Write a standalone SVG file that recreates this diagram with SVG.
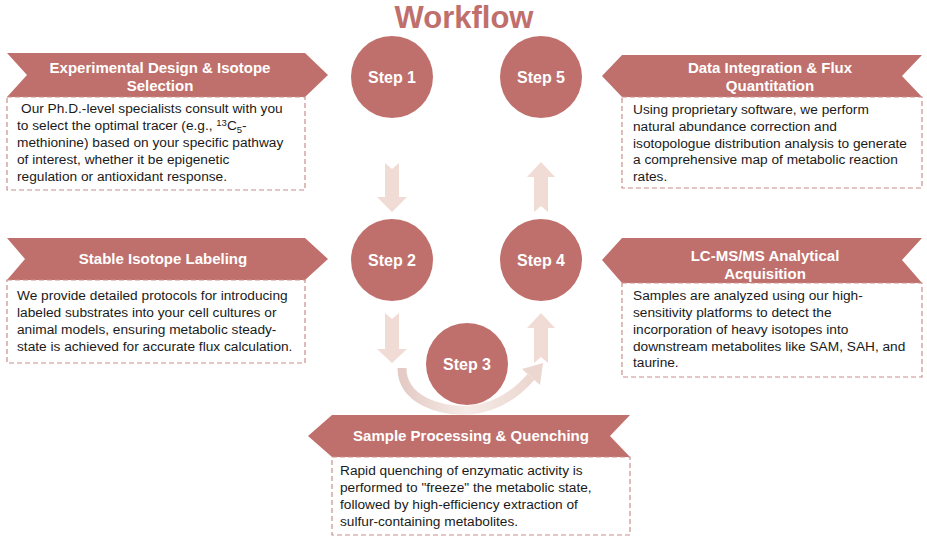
<svg xmlns="http://www.w3.org/2000/svg" width="927" height="542" viewBox="0 0 927 542">
<defs>
<style>
.ttl{font-family:"Liberation Sans",Arial,sans-serif;font-weight:bold;font-size:31px;fill:#bf6f6c;text-anchor:middle}
.rib{fill:#c0706c}
.box{fill:#ffffff;stroke:#c98f8a;stroke-width:1.2;stroke-dasharray:5 3}
.hd{font-family:"Liberation Sans",Arial,sans-serif;font-weight:bold;font-size:15px;fill:#ffffff;text-anchor:middle}
.bd{font-family:"Liberation Sans",Arial,sans-serif;font-size:13.7px;fill:#1a1a1a}
.circ{fill:#c0706c}
.st{font-family:"Liberation Sans",Arial,sans-serif;font-weight:bold;font-size:16px;fill:#ffffff;text-anchor:middle}
.arr{fill:#f1dcd5}
</style>
<linearGradient id="arcg" x1="0" y1="0" x2="1" y2="0">
<stop offset="0" stop-color="#e4cbc5"/>
<stop offset="0.5" stop-color="#f6ebe7"/>
<stop offset="1" stop-color="#ecd7d0"/>
</linearGradient>
</defs>
<rect width="927" height="542" fill="#ffffff"/>
<text class="ttl" x="464" y="28">Workflow</text>

<g id="connectors">
<path class="arr" d="M385,163 L392,169 L399,163 L399,197 L407,197 L392,212 L377,197 L385,197 Z"/>
<path class="arr" d="M385,313 L392,319 L399,313 L399,349 L407,349 L392,363 L377,349 L385,349 Z"/>
<path class="arr" d="M541,162 L555,177 L548,177 L548,212 L541,206 L534,212 L534,177 L527,177 Z"/>
<path class="arr" d="M541,313 L555,328 L548,328 L548,363 L541,357 L534,363 L534,328 L527,328 Z"/>
<path d="M402,368 C402,400 440,412 470,410 C495,408 515,395 531,377" fill="none" stroke="url(#arcg)" stroke-width="9"/>
<polygon points="543,363 540,385 522,369" fill="#ecd7d0"/>
</g>

<g id="step1"><circle class="circ" cx="392" cy="77" r="41"/><text class="st" x="392" y="83">Step 1</text></g>
<g id="step5"><circle class="circ" cx="541" cy="77" r="41"/><text class="st" x="541" y="83">Step 5</text></g>
<g id="step2"><circle class="circ" cx="392" cy="260" r="41"/><text class="st" x="392" y="266">Step 2</text></g>
<g id="step4"><circle class="circ" cx="541" cy="260" r="41"/><text class="st" x="541" y="266">Step 4</text></g>
<g id="step3"><circle class="circ" cx="467" cy="364" r="41"/><text class="st" x="467" y="370">Step 3</text></g>

<g id="box1">
<path class="rib" d="M7,53 L305,53 L328,75 L305,97 L7,97 L27,75 Z"/>
<text class="hd" x="160" y="73">Experimental Design &amp; Isotope</text>
<text class="hd" x="160" y="91">Selection</text>
<rect class="box" x="7" y="97" width="298" height="93"/>
<text class="bd" x="21" y="113">Our Ph.D.-level specialists consult with you</text>
<text class="bd" x="17" y="130">to select the optimal tracer (e.g., <tspan font-size="9.5" dy="-4">13</tspan><tspan dy="4">C</tspan><tspan font-size="9.5" dy="3">5</tspan><tspan dy="-3">-</tspan></text>
<text class="bd" x="17" y="147">methionine) based on your specific pathway</text>
<text class="bd" x="17" y="164">of interest, whether it be epigenetic</text>
<text class="bd" x="17" y="181">regulation or antioxidant response.</text>
</g>

<g id="box2">
<path class="rib" d="M622,55 L922,55 L902,76 L922,97 L622,97 L602,76 Z"/>
<text class="hd" x="770" y="73">Data Integration &amp; Flux</text>
<text class="hd" x="770" y="91">Quantitation</text>
<rect class="box" x="622" y="97" width="300" height="91"/>
<text class="bd" x="633" y="114">Using proprietary software, we perform</text>
<text class="bd" x="633" y="131">natural abundance correction and</text>
<text class="bd" x="633" y="148">isotopologue distribution analysis to generate</text>
<text class="bd" x="633" y="164">a comprehensive map of metabolic reaction</text>
<text class="bd" x="633" y="181">rates.</text>
</g>

<g id="box3">
<path class="rib" d="M7,238 L305,238 L328,259 L305,280 L7,280 L25,259 Z"/>
<text class="hd" x="163" y="264">Stable Isotope Labeling</text>
<rect class="box" x="7" y="280" width="298" height="83"/>
<text class="bd" x="17" y="300">We provide detailed protocols for introducing</text>
<text class="bd" x="17" y="317">labeled substrates into your cell cultures or</text>
<text class="bd" x="17" y="334">animal models, ensuring metabolic steady-</text>
<text class="bd" x="17" y="351">state is achieved for accurate flux calculation.</text>
</g>

<g id="box4">
<path class="rib" d="M622,238 L922,238 L902,260 L922,283 L622,283 L602,260 Z"/>
<text class="hd" x="765" y="261">LC-MS/MS Analytical</text>
<text class="hd" x="765" y="279">Acquisition</text>
<rect class="box" x="622" y="283" width="300" height="94"/>
<text class="bd" x="633" y="300">Samples are analyzed using our high-</text>
<text class="bd" x="633" y="317">sensitivity platforms to detect the</text>
<text class="bd" x="633" y="334">incorporation of heavy isotopes into</text>
<text class="bd" x="633" y="351">downstream metabolites like SAM, SAH, and</text>
<text class="bd" x="633" y="367">taurine.</text>
</g>

<g id="box5">
<path class="rib" d="M332,415 L630,415 L610,436 L630,457 L332,457 L308,436 Z"/>
<text class="hd" x="471" y="441">Sample Processing &amp; Quenching</text>
<rect class="box" x="332" y="457" width="298" height="78"/>
<text class="bd" x="340" y="475">Rapid quenching of enzymatic activity is</text>
<text class="bd" x="340" y="492">performed to "freeze" the metabolic state,</text>
<text class="bd" x="340" y="509">followed by high-efficiency extraction of</text>
<text class="bd" x="340" y="526">sulfur-containing metabolites.</text>
</g>
</svg>
